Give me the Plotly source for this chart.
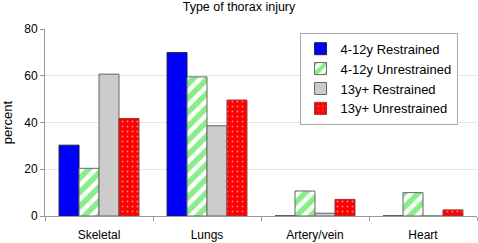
import plotly.graph_objects as go

categories = ["Skeletal", "Lungs", "Artery/vein", "Heart"]
r412 = [30.3, 69.9, 0, 0]
u412 = [20.4, 59.5, 10.7, 10.0]
r13 = [60.7, 38.6, 1.2, 0]
u13 = [41.7, 49.6, 7.1, 2.6]
series_names = ["4-12y Restrained", "4-12y Unrestrained", "13y+ Restrained", "13y+ Unrestrained"]
y_ticks = [0, 20, 40, 60, 80]

fig = go.Figure()
fig.add_trace(go.Bar(x=categories, y=r412, name=series_names[0],
                     marker=dict(color="#0000ff", line=dict(color="#222244", width=1))))
fig.add_trace(go.Bar(x=categories, y=u412, name=series_names[1],
                     marker=dict(color="#ffffff", line=dict(color="#666666", width=1),
                                 pattern=dict(shape="/", fgcolor="#11dd11", bgcolor="#ffffff",
                                              size=10, solidity=0.55, fillmode="overlay"))))
fig.add_trace(go.Bar(x=categories, y=r13, name=series_names[2],
                     marker=dict(color="#cccccc", line=dict(color="#666666", width=1))))
fig.add_trace(go.Bar(x=categories, y=u13, name=series_names[3],
                     marker=dict(color="#ff0000", line=dict(color="#993333", width=1),
                                 pattern=dict(shape=".", fgcolor="#ffffff", bgcolor="#ff0000",
                                              size=5, solidity=0.12, fillmode="overlay"))))

fig.update_layout(
    width=478, height=243,
    margin=dict(l=45, r=1, t=29, b=27, autoexpand=False),
    paper_bgcolor="white", plot_bgcolor="white",
    barmode="group", bargap=0.26, bargroupgap=0,
    font=dict(family="Liberation Sans, Arial, sans-serif", size=12, color="black"),
    title=dict(text="Type of thorax injury", x=0.5, xanchor="center",
               yref="container", y=1 - 7 / 243, yanchor="middle",
               font=dict(size=12.5)),
    showlegend=True,
    legend=dict(x=0.955, y=0.98, xanchor="right", yanchor="top",
                bgcolor="white", bordercolor="#aaaaaa", borderwidth=1,
                font=dict(size=13), tracegroupgap=0, itemwidth=30,
                traceorder="normal"),
    xaxis=dict(showline=True, linecolor="#999999", linewidth=1, ticks="outside",
               tickson="boundaries", ticklen=4, tickcolor="#999999",
               ticklabelstandoff=8, tickfont=dict(size=12)),
    yaxis=dict(range=[0, 80], tickvals=y_ticks, showline=True, linecolor="#999999",
               linewidth=1, ticks="outside", ticklen=4, tickcolor="#999999",
               showgrid=True, gridcolor="#e6e6e6", zeroline=False,
               tickfont=dict(size=12),
               title=dict(text="percent", font=dict(size=13), standoff=8)),
)

fig.write_html("out.html", config={"displayModeBar": False},
               post_script="document.body.style.margin='0';")
